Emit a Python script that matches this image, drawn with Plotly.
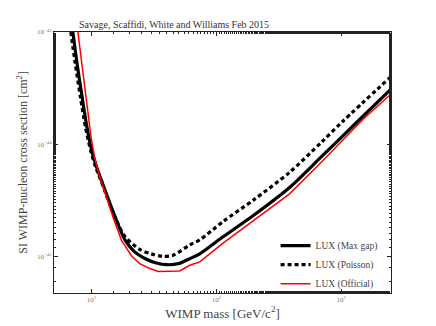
import plotly.graph_objects as go

# LUX (Max gap) limit
mass_maxgap = [7.08, 7.6, 8.41, 9.2, 10.1, 11.0, 12.2, 15.4, 18.5, 22, 27, 33, 40, 50, 61, 73.5, 113, 200, 385, 700, 1318, 2500]
sigma_maxgap = [1e-43, 5.5e-44, 2.6e-44, 1.4e-44, 8.5e-45, 6.2e-45, 4.5e-45, 2.26e-45, 1.40e-45, 1.1e-45, 9.5e-46,
                8.7e-46, 8.4e-46, 8.6e-46, 9.5e-46, 1.05e-45, 1.49e-45, 2.33e-45, 4.1e-45, 7.8e-45, 1.55e-44, 3.1e-44]

# LUX (Poisson) limit
mass_poisson = [6.82, 7.35, 8.15, 8.95, 9.9, 10.8, 12.0, 15.1, 18.5, 24.3, 30, 37, 45, 61, 73.5, 113, 200, 385, 700, 1030, 2500]
sigma_poisson = [1e-43, 5.5e-44, 2.6e-44, 1.4e-44, 8.5e-45, 6.2e-45, 4.6e-45, 2.35e-45, 1.5e-45, 1.15e-45, 1.05e-45,
                 1.0e-45, 1.02e-45, 1.26e-45, 1.4e-45, 2.04e-45, 3.2e-45, 5.6e-45, 1.05e-44, 1.6e-44, 4.0e-44]

# LUX (Official) limit
mass_official = [7.77, 8.5, 9.2, 9.9, 10.6, 11.5, 12.5, 14.9, 17.4, 21, 24.3, 29, 34.1, 42, 50.8, 61.1, 73.5, 113, 200, 385, 700, 1480, 2500]
sigma_official = [1e-43, 4.5e-44, 2.2e-44, 1.15e-44, 7.5e-45, 5.3e-45, 4.0e-45, 2.2e-45, 1.38e-45, 1.0e-45, 8.6e-46,
                  7.8e-46, 7.3e-46, 7.3e-46, 7.4e-46, 8.3e-46, 8.9e-46, 1.31e-45, 2.1e-45, 3.6e-45, 7.0e-45, 1.65e-44, 2.8e-44]

x_tickvals = [10, 100, 1000]
x_ticktext = ["10<sup>1</sup>", "10<sup>2</sup>", "10<sup>3</sup>"]
y_tickvals = [1e-45, 1e-44, 1e-43]
y_ticktext = ["10<sup>\u221245</sup>", "10<sup>\u221244</sup>", "10<sup>\u221243</sup>"]

serif = "Liberation Serif"

fig = go.Figure()
fig.add_trace(go.Scatter(x=mass_maxgap, y=sigma_maxgap, mode="lines", name="LUX (Max gap)",
                         line=dict(color="black", width=3.2, shape="spline", smoothing=0.8)))
fig.add_trace(go.Scatter(x=mass_poisson, y=sigma_poisson, mode="lines", name="LUX (Poisson)",
                         line=dict(color="black", width=3.2, dash="4px,3px", shape="spline", smoothing=0.8)))
fig.add_trace(go.Scatter(x=mass_official, y=sigma_official, mode="lines", name="LUX (Official)",
                         line=dict(color="#ff0000", width=1.5)))

axis_common = dict(type="log", showgrid=False, zeroline=False, showline=True, linecolor="#222",
                   linewidth=1, mirror="ticks", ticks="inside", ticklen=4, tickcolor="#222",
                   automargin=False,
                   tickfont=dict(family=serif, size=7, color="#777"),
                   minor=dict(ticks="inside", ticklen=2, tickcolor="#222", showgrid=False))

fig.update_xaxes(range=[0.699, 3.398], tickvals=x_tickvals, ticktext=x_ticktext,
                 title=dict(text="WIMP mass [GeV/c<sup>2</sup>]", font=dict(family=serif, size=13, color="#444"),
                            standoff=2),
                 **axis_common)
fig.update_yaxes(range=[-45.328, -43], tickvals=y_tickvals, ticktext=y_ticktext,
                 title=dict(text="SI WIMP-nucleon cross section [cm<sup>2</sup>]",
                            font=dict(family=serif, size=12, color="#444"), standoff=6),
                 **axis_common)

fig.add_annotation(text="Savage, Scaffidi, White and Williams Feb 2015", xref="paper", yref="paper",
                   x=0.068, y=1.0, xanchor="left", yanchor="bottom", showarrow=False,
                   font=dict(family=serif, size=10, color="#333"))

# page body adds an 8px offset, so the figure is drawn 8px smaller
fig.update_layout(width=428, height=318, margin=dict(l=46, r=45, t=24, b=33),
                  paper_bgcolor="white", plot_bgcolor="white",
                  font=dict(family=serif, color="#333"),
                  legend=dict(x=0.975, y=-0.02, xanchor="right", yanchor="bottom", bgcolor="rgba(0,0,0,0)",
                              font=dict(family=serif, size=9.5, color="#444"), itemwidth=30,
                              tracegroupgap=0))

fig.write_html("out.html")
